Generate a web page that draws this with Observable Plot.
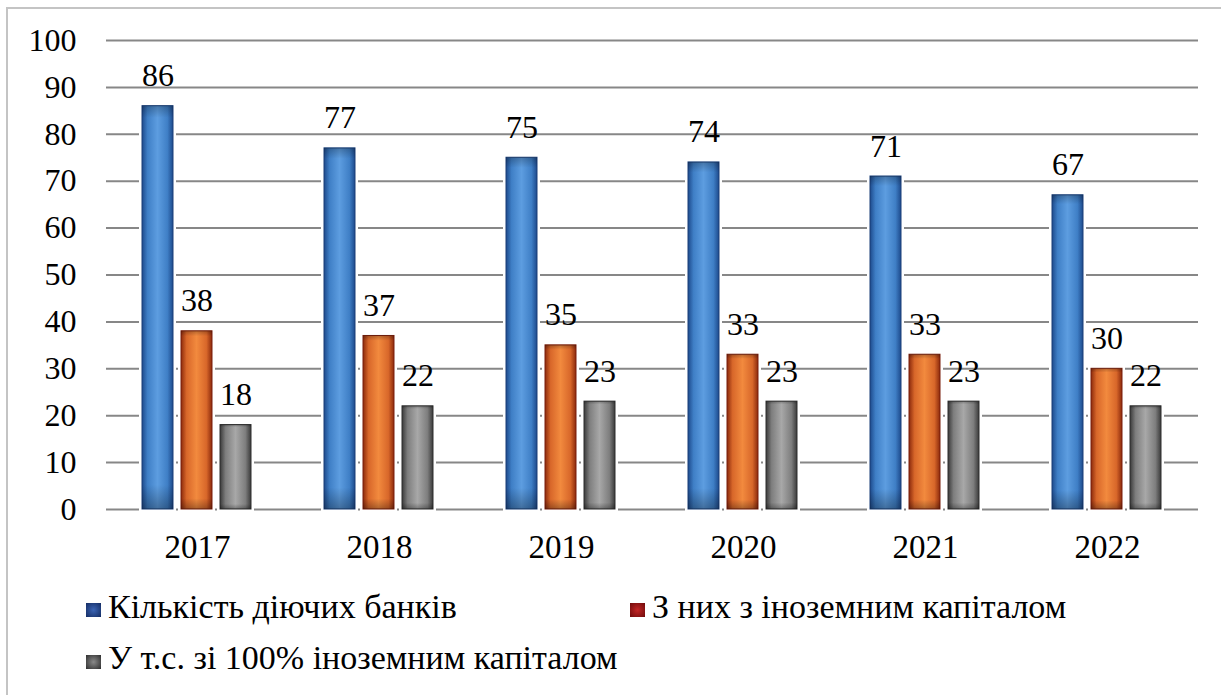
<!DOCTYPE html>
<html><head><meta charset="utf-8">
<script src="https://cdn.jsdelivr.net/npm/d3@7"></script>
<script src="https://cdn.jsdelivr.net/npm/@observablehq/plot@0.6"></script>
<style>
body{margin:0;background:#fff;}
#wrap{position:relative;width:1221px;height:695px;overflow:hidden;font-family:"Liberation Serif","Times New Roman",serif;}
#frame{position:absolute;left:6px;top:7px;width:1300px;height:800px;border-top:2px solid #c4c4c4;border-left:2px solid #c4c4c4;}
#chart{position:absolute;left:0;top:0;}
.sw{position:absolute;width:15px;height:14px;}
.lt{position:absolute;font-family:"Liberation Serif","Times New Roman",serif;font-size:34px;line-height:34px;color:#000;white-space:pre;}
</style></head><body>
<div id="wrap"><div id="frame"></div><div id="chart"></div><div id="legend"></div></div>
<script>
const years = ["2017", "2018", "2019", "2020", "2021", "2022"];
const seriesNames = ["Кількість діючих банків", "З них з іноземним капіталом", "У т.с. зі 100% іноземним капіталом"];
const activeBanks = [86, 77, 75, 74, 71, 67];
const foreignCapital = [38, 37, 35, 33, 33, 30];
const fullForeign = [18, 22, 23, 23, 23, 22];
const yTicks = [0, 10, 20, 30, 40, 50, 60, 70, 80, 90, 100];

const seriesValues = [activeBanks, foreignCapital, fullForeign];
const gradIds = ["gBlue", "gOrange", "gGray"];
const edgeColors = ["#1a3f78", "#7a1f0c", "#2f2f2f"];
const table = [];
years.forEach((y, i) => seriesValues.forEach((vals, s) => table.push({year: y, series: seriesNames[s], idx: s, value: vals[i]})));

const font = '"Liberation Serif", "Times New Roman", serif';
const plot = Plot.plot({
  width: 1221, height: 570,
  marginLeft: 105, marginRight: 22, marginTop: 40, marginBottom: 61,
  style: {fontFamily: font, fontSize: "32px", color: "#000", background: "transparent", overflow: "visible"},
  fx: {domain: years, padding: 0, label: null, tickSize: 0, tickPadding: 25, axis: "bottom"},
  x: {domain: seriesNames, paddingInner: 0.2, paddingOuter: 0.879, axis: null},
  y: {domain: [0, 100], ticks: yTicks, tickSize: 0, tickPadding: 30, label: null},
  color: {type: "identity"},
  marks: [
    Plot.ruleY(yTicks, {stroke: "#878787", strokeWidth: 2}),
    Plot.barY(table, {fx: "year", x: "series", y: "value", fill: "white", stroke: "white", strokeWidth: 6}),
    Plot.barY(table, {fx: "year", x: "series", y: "value", fill: d => `url(#${gradIds[d.idx]})`, stroke: d => edgeColors[d.idx], strokeWidth: 1}),
    Plot.barY(table, {fx: "year", x: "series", y: "value", fill: "url(#gShade)"}),
    Plot.text(table, {fx: "year", x: "series", y: "value", text: d => String(d.value), dy: -20, lineAnchor: "bottom", fontSize: 32, fill: "#000"})
  ]
});

const svg = d3.select(plot).attr("font-family", font);
svg.selectAll("text").attr("font-family", font);
const defs = svg.insert("defs", ":first-child");
function hgrad(id, dark, mid, light) {
  const g = defs.append("linearGradient").attr("id", id).attr("x1", 0).attr("x2", 1).attr("y1", 0).attr("y2", 0);
  [[0, dark], [0.18, mid], [0.5, light], [0.82, mid], [1, dark]].forEach(([o, c]) => g.append("stop").attr("offset", o).attr("stop-color", c));
}
hgrad("gBlue", "#1d4a8c", "#3f7fc6", "#5d9de0");
hgrad("gOrange", "#8c2a0c", "#d8672a", "#f28a3e");
hgrad("gGray", "#3a3a3a", "#7e7e7e", "#a8a8a8");
const sh = defs.append("linearGradient").attr("id", "gShade").attr("x1", 0).attr("x2", 0).attr("y1", 0).attr("y2", 1);
[[0, 0.25], [0.03, 0], [0.94, 0], [1, 0.3]].forEach(([o, a]) => sh.append("stop").attr("offset", o).attr("stop-color", "#000").attr("stop-opacity", a));
// year labels slightly larger, as in the reference
svg.selectAll("[aria-label='fx-axis tick label'] text, [aria-label='fx-axis tick label']").attr("font-size", 33);
document.getElementById("chart").appendChild(plot);

// legend
const legendSwatch = [
  "radial-gradient(circle, #3b64b4 0%, #142c62 100%)",
  "radial-gradient(circle, #c42626 0%, #6e0b0b 100%)",
  "radial-gradient(circle, #8a8a8a 0%, #2e2e2e 100%)"
];
const legendPos = [[86, 108, 603, 590], [630, 652, 603, 590], [86, 108, 655, 641]];
const leg = document.getElementById("legend");
seriesNames.forEach((name, i) => {
  const [sx, tx, sy, ty] = legendPos[i];
  const sw = document.createElement("div");
  sw.className = "sw";
  sw.style.left = sx + "px"; sw.style.top = sy + "px"; sw.style.background = legendSwatch[i];
  leg.appendChild(sw);
  const t = document.createElement("div");
  t.className = "lt";
  t.style.left = tx + "px"; t.style.top = ty + "px";
  t.textContent = name;
  leg.appendChild(t);
});
</script>
</body></html>
